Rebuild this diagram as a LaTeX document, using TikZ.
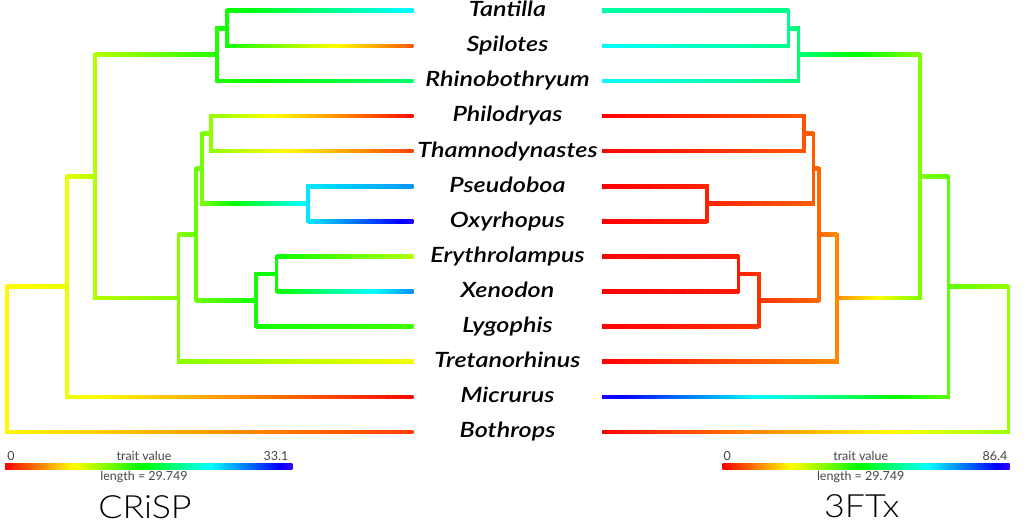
\documentclass[tikz,border=0pt]{standalone}
\usepackage{fontspec}
\setmainfont{Lato}
\newfontfamily\labfont{Lato Semibold Italic}[FakeStretch=1.2]
\newfontfamily\lightfont{Lato Light}[FakeStretch=1.12]
\pgfdeclarelayer{bg}
\pgfsetlayers{bg,main}
\definecolor{outl}{RGB}{125,125,125}
\definecolor{legtext}{RGB}{70,70,70}

\newcommand\NP{16}
% horizontal branch: x-left, x-right, y, hue-left, hue-right
\newcommand\hbranch[5]{%
  \begin{pgfonlayer}{bg}\fill[outl] (#1,#3-2.9) rectangle (#2,#3+2.9);\end{pgfonlayer}%
  \foreach \k in {1,...,\NP}{%
    \pgfmathsetmacro\xa{#1+(#2-#1)*(\k-1)/\NP}%
    \pgfmathsetmacro\xb{#1+(#2-#1)*\k/\NP}%
    \pgfmathsetmacro\ha{#4+(#5-#4)*(\k-1)/\NP}%
    \pgfmathsetmacro\hb{#4+(#5-#4)*\k/\NP}%
    \definecolor{ca}{Hsb}{\ha,1,1}\definecolor{cb}{Hsb}{\hb,1,1}%
    \shade[left color=ca,right color=cb] (\xa,#3-1.8) rectangle (\xb+0.3,#3+1.8);
  }}
% branch by depth: parent depth, child depth, y, parent hue, child hue
\newcommand\B[5]{%
  \pgfmathsetmacro\brXa{\ox+\dir*(#1)}%
  \pgfmathsetmacro\brXb{\ox+\dir*(#2)}%
  \ifnum\dir>0 \hbranch{\brXa}{\brXb}{#3}{#4}{#5}\else\hbranch{\brXb}{\brXa}{#3}{#5}{#4}\fi}
% vertical at node: depth, y1, y2, hue
\newcommand\V[4]{%
  \pgfmathsetmacro\brXa{\ox+\dir*(#1)}%
  \begin{pgfonlayer}{bg}\fill[outl] (\brXa-2.9,#2-2.9) rectangle (\brXa+2.9,#3+2.9);\end{pgfonlayer}%
  \definecolor{vc}{Hsb}{#4,1,1}%
  \fill[vc] (\brXa-1.8,#2-1.8) rectangle (\brXa+1.8,#3+1.8);}
% colour bar
\newcommand\cbar[2]{%
  \foreach \k in {1,...,32}{%
    \pgfmathsetmacro\xa{#1+(#2-#1)*(\k-1)/32}%
    \pgfmathsetmacro\xb{#1+(#2-#1)*\k/32}%
    \pgfmathsetmacro\ha{252*(\k-1)/32}%
    \pgfmathsetmacro\hb{252*\k/32}%
    \definecolor{ca}{Hsb}{\ha,1,1}\definecolor{cb}{Hsb}{\hb,1,1}%
    \shade[left color=ca,right color=cb] (\xa,463.5) rectangle (\xb+0.3,469);
  }}

% depths
\def\dpF{0}\def\dpE{60}\def\dpD{88.3}\def\dpC{171.6}\def\dpB{189.3}\def\dpA{195}
\def\dpPT{204.2}\def\dpPO{301.5}\def\dpEXL{249.5}\def\dpEX{269.8}
\def\dpTT{210}\def\dpTS{220}\def\dptip{406.3}
% rows
\def\yyTa{10.7}\def\yySp{45.8}\def\yyRh{80.9}\def\yyPh{116.0}\def\yyTh{151.1}
\def\yyPs{186.2}\def\yyOx{221.3}\def\yyEr{256.4}\def\yyXe{291.5}\def\yyLy{326.6}
\def\yyTr{361.7}\def\yyMi{396.8}\def\yyBo{431.9}
% internal nodes
\def\yyTS{28.25}\def\yyTT{54.6}\def\yyPT{133.55}\def\yyPO{203.75}\def\yyA{168.65}
\def\yyEX{273.95}\def\yyEXL{300.3}\def\yyB{234.5}\def\yyC{298.1}\def\yyD{176.35}
\def\yyE{286.6}

\newcommand\drawtree{%
  \B{\dpF}{\dpE}{\yyE}{\huF}{\huE}
  \B{\dpF}{\dptip}{\yyBo}{\huF}{\tuBo}
  \B{\dpE}{\dpD}{\yyD}{\huE}{\huD}
  \B{\dpE}{\dptip}{\yyMi}{\huE}{\tuMi}
  \B{\dpD}{\dpTT}{\yyTT}{\huD}{\huTT}
  \B{\dpD}{\dpC}{\yyC}{\huD}{\huC}
  \B{\dpTT}{\dpTS}{\yyTS}{\huTT}{\huTS}
  \B{\dpTT}{\dptip}{\yyRh}{\huTT}{\tuRh}
  \B{\dpTS}{\dptip}{\yyTa}{\huTS}{\tuTa}
  \B{\dpTS}{\dptip}{\yySp}{\huTS}{\tuSp}
  \B{\dpC}{\dpB}{\yyB}{\huC}{\huB}
  \B{\dpC}{\dptip}{\yyTr}{\huC}{\tuTr}
  \B{\dpB}{\dpA}{\yyA}{\huB}{\huA}
  \B{\dpB}{\dpEXL}{\yyEXL}{\huB}{\huEXL}
  \B{\dpA}{\dpPT}{\yyPT}{\huA}{\huPT}
  \B{\dpA}{\dpPO}{\yyPO}{\huA}{\huPO}
  \B{\dpPT}{\dptip}{\yyPh}{\huPT}{\tuPh}
  \B{\dpPT}{\dptip}{\yyTh}{\huPT}{\tuTh}
  \B{\dpPO}{\dptip}{\yyPs}{\huPO}{\tuPs}
  \B{\dpPO}{\dptip}{\yyOx}{\huPO}{\tuOx}
  \B{\dpEXL}{\dpEX}{\yyEX}{\huEXL}{\huEX}
  \B{\dpEXL}{\dptip}{\yyLy}{\huEXL}{\tuLy}
  \B{\dpEX}{\dptip}{\yyEr}{\huEX}{\tuEr}
  \B{\dpEX}{\dptip}{\yyXe}{\huEX}{\tuXe}
  \V{\dpF}{\yyE}{\yyBo}{\huF}
  \V{\dpE}{\yyD}{\yyMi}{\huE}
  \V{\dpD}{\yyTT}{\yyC}{\huD}
  \V{\dpTT}{\yyTS}{\yyRh}{\huTT}
  \V{\dpTS}{\yyTa}{\yySp}{\huTS}
  \V{\dpC}{\yyB}{\yyTr}{\huC}
  \V{\dpB}{\yyA}{\yyEXL}{\huB}
  \V{\dpA}{\yyPT}{\yyPO}{\huA}
  \V{\dpPT}{\yyPh}{\yyTh}{\huPT}
  \V{\dpPO}{\yyPs}{\yyOx}{\huPO}
  \V{\dpEXL}{\yyEX}{\yyLy}{\huEXL}
  \V{\dpEX}{\yyEr}{\yyXe}{\huEX}
}

\begin{document}
\begin{tikzpicture}[x=1pt,y=-1pt,
  lab/.style={font=\labfont\fontsize{21}{21}\selectfont, anchor=base, inner sep=0pt},
  leg/.style={font=\fontsize{12.5}{13}\selectfont, text=legtext, inner sep=0pt, anchor=base},
  title/.style={font=\lightfont\fontsize{32}{32}\selectfont, inner sep=0pt, anchor=base}]
\useasboundingbox (0,0) rectangle (1024,531);
\fill[white] (0,0) rectangle (1024,531);

% ---- left tree (CRiSP)
\def\ox{6.7}\def\dir{1}
\def\huF{58}\def\huE{65}\def\huD{78}\def\huTT{112}\def\huTS{116}\def\huC{88}
\def\huB{96}\def\huA{92}\def\huPT{86}\def\huPO{185}\def\huEXL{116}\def\huEX{118}
\def\tuTa{182}\def\tuSp{20}\def\tuRh{146}\def\tuPh{2}\def\tuTh{15}\def\tuPs{205}
\def\tuOx{248}\def\tuEr{78}\def\tuXe{206}\def\tuLy{105}\def\tuTr{62}\def\tuMi{1}\def\tuBo{14}
\drawtree

% ---- right tree (3FTx)
\def\ox{1008.3}\def\dir{-1}
\def\huF{84}\def\huE{98}\def\huD{90}\def\huTT{148}\def\huTS{152}\def\huC{32}
\def\huB{24}\def\huA{22}\def\huPT{20}\def\huPO{8}\def\huEXL{12}\def\huEX{6}
\def\tuTa{158}\def\tuSp{180}\def\tuRh{180}\def\tuPh{0}\def\tuTh{0}\def\tuPs{0}
\def\tuOx{0}\def\tuEr{0}\def\tuXe{0}\def\tuLy{0}\def\tuTr{0}\def\tuMi{248}\def\tuBo{0}
\drawtree

% ---- taxon labels
\foreach \nm/\txt [count=\i from 0] in {tantilla/Tantilla, spilotes/Spilotes,
  rhino/Rhinobothryum, philo/Philodryas, thamno/Thamnodynastes, pseudo/Pseudoboa,
  oxy/Oxyrhopus, erythro/Erythrolampus, xeno/Xenodon, lygo/Lygophis,
  tretano/Tretanorhinus, micrurus/Micrurus, bothrops/Bothrops}
  \node[lab] (\nm) at (507.5, 16.6+35.1*\i) {\txt};

% ---- legends
\cbar{5}{292}
\node[leg] (l0) at (11,460) {0};
\node[leg] (ltv) at (144,460) {trait value};
\node[leg] (lmax) at (276,460) {33.1};
\node[leg] (llen) at (144,480.5) {length = 29.749};
\node[title] (crisp) at (145,518) {CRiSP};

\cbar{722.7}{1009.3}
\node[leg] (r0) at (727.3,460) {0};
\node[leg] (rtv) at (860.7,460) {trait value};
\node[leg] (rmax) at (995,460) {86.4};
\node[leg] (rlen) at (860.7,480.5) {length = 29.749};
\node[title] (ftx) at (861.7,517) {3FTx};
\end{tikzpicture}
\end{document}
